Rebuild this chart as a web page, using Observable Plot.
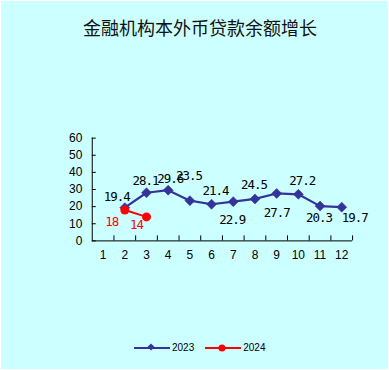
<!DOCTYPE html>
<html>
<head>
<meta charset="utf-8">
<script src="https://cdn.jsdelivr.net/npm/d3@7"></script>
<script src="https://cdn.jsdelivr.net/npm/@observablehq/plot@0.6"></script>
<style>
  html, body { margin: 0; padding: 0; background: #ffffff; }
  #box { position: absolute; left: 1px; top: 1px; width: 387px; height: 368px; background: #ccffff; overflow: hidden; }
  #title { position: absolute; left: 82px; top: 16px; font-family: "Noto Sans CJK SC", sans-serif; font-size: 18px; line-height: 20px; color: #111; white-space: nowrap; }
  #chart { position: absolute; left: -1px; top: -1px; }
  #chart g[aria-label="text"] text { letter-spacing: -1px; }
  #legend { position: absolute; left: 133px; top: 341px; font-family: "Liberation Sans", sans-serif; font-size: 10px; display: flex; align-items: center; white-space: nowrap; }
  #legend .item { display: flex; align-items: center; margin-right: 11px; }
  #legend svg { display: block; margin-right: 2px; }
</style>
</head>
<body>
<div id="box">
  <div id="title">金融机构本外币贷款余额增长</div>
  <div id="chart"></div>
  <div id="legend"></div>
</div>
<script>
// ---- data ----
const months = [1, 2, 3, 4, 5, 6, 7, 8, 9, 10, 11, 12];
const months2023 = [2, 3, 4, 5, 6, 7, 8, 9, 10, 11, 12];
const values2023 = [19.4, 28.1, 29.6, 23.5, 21.4, 22.9, 24.5, 27.7, 27.2, 20.3, 19.7];
const months2024 = [2, 3];
const values2024 = [18, 14];
const yTicks = [0, 10, 20, 30, 40, 50, 60];
const seriesNames = ["2023", "2024"];

// ---- label placement (pixel offsets) ----
const dx2023 = [-8, -1, 2, -1, 4, -1, -1, 0, 4, -1, 13];
const dy2023 = [-11, -12, -11, -25, -13, 18, -14, 20, -13, 12, 11];
const dx2024 = [-13, -10];
const dy2024 = [12, 8];

const c2023 = "#333399";
const c2024 = "#ff0000";

const d2023 = months2023.map((m, i) => ({month: m, value: values2023[i]}));
const d2024 = months2024.map((m, i) => ({month: m, value: values2024[i]}));
const boundaries = months.map(m => m + 0.5);

const W = 389, H = 370;
const mL = 92, mR = 36, mT = 138, mB = 129;
const frameW = W - mL - mR, frameH = H - mT - mB;

const labelFont = "DejaVu Sans Mono, Liberation Mono, monospace";

const labels2023 = d2023.map((d, i) => Plot.text([d], {
  x: "month", y: "value", text: d => String(d.value),
  dx: dx2023[i], dy: dy2023[i], fill: "#000", fontSize: 12.5, fontFamily: labelFont
}));
const labels2024 = d2024.map((d, i) => Plot.text([d], {
  x: "month", y: "value", text: d => String(d.value),
  dx: dx2024[i], dy: dy2024[i], fill: c2024, fontSize: 12.5, fontFamily: labelFont
}));

const chart = Plot.plot({
  width: W, height: H,
  marginLeft: mL, marginRight: mR, marginTop: mT, marginBottom: mB,
  style: {background: "transparent", fontFamily: "Liberation Sans, Arial, sans-serif", fontSize: "12px", color: "#000"},
  x: {type: "linear", domain: [0.5, 12.5], label: null},
  y: {type: "linear", domain: [0, 60], label: null},
  marks: [
    Plot.axisX({ticks: months, tickSize: 0, tickPadding: 10, tickFormat: d => String(d), fontSize: 12, label: null}),
    Plot.axisY({ticks: yTicks, tickSize: 0, tickPadding: 10, tickFormat: d => String(d), fontSize: 12, label: null}),
    Plot.tickX(boundaries, {x: d => d, insetTop: frameH - 5, stroke: "#000"}),
    Plot.tickY(yTicks, {y: d => d, insetRight: frameW - 4, stroke: "#000"}),
    Plot.ruleY([0], {x1: 0.5, x2: 12.5, stroke: "#000"}),
    Plot.ruleX([0.5], {y1: 0, y2: 60, stroke: "#000"}),
    Plot.line(d2023, {x: "month", y: "value", stroke: c2023, strokeWidth: 2.2}),
    Plot.dot(d2023, {x: "month", y: "value", symbol: "square", rotate: 45, r: 4, fill: c2023, stroke: c2023, strokeWidth: 0.5}),
    Plot.line(d2024, {x: "month", y: "value", stroke: c2024, strokeWidth: 2}),
    Plot.dot(d2024, {x: "month", y: "value", r: 4.5, fill: c2024}),
    ...labels2023,
    ...labels2024
  ]
});
document.getElementById("chart").appendChild(chart);

// ---- legend ----
const legend = document.getElementById("legend");
const legendMarkers = [
  `<svg width="36" height="10"><line x1="0" y1="5" x2="36" y2="5" stroke="${c2023}" stroke-width="2"/><rect x="14.5" y="1.5" width="5" height="5" fill="${c2023}" transform="rotate(45 17 4)"/></svg>`,
  `<svg width="36" height="10"><line x1="0" y1="5" x2="36" y2="5" stroke="${c2024}" stroke-width="2"/><circle cx="17" cy="5" r="3.5" fill="${c2024}"/></svg>`
];
seriesNames.forEach((name, i) => {
  const item = document.createElement("div");
  item.className = "item";
  item.innerHTML = legendMarkers[i] + `<span>${name}</span>`;
  legend.appendChild(item);
});
</script>
</body>
</html>
